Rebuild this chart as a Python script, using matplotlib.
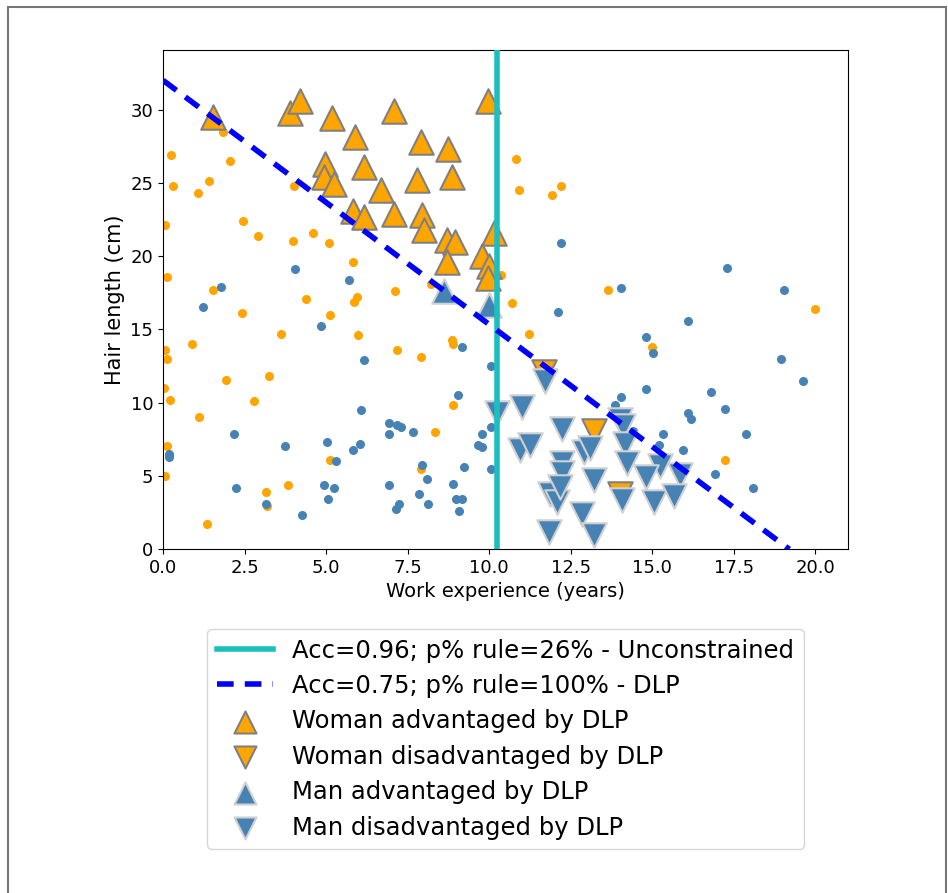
import matplotlib
matplotlib.use("Agg")
import matplotlib.pyplot as plt
from matplotlib.patches import Rectangle

# small dots: women (orange) and men (blue)
woman_x = [0.24, 0.3, 1.08, 1.42, 2.06, 1.85, 4.02, 0.06, 2.46, 2.92, 3.98, 4.61, 5.1, 5.81,
           0.11, 1.54, 7.12, 8.22, 4.38, 5.94, 5.84, 10.82, 10.9, 11.92, 12.2, 13.64, 10.36,
           2.41, 5.12, 3.61, 5.97, 0.9, 0.06, 0.11, 7.16, 7.9, 8.85, 8.9, 1.92, 3.25, 0.03,
           0.21, 2.79, 1.11, 8.9, 8.34, 0.13, 5.12, 0.06, 7.91, 3.15, 3.2, 3.82, 1.34, 10.69,
           11.21, 19.98, 15.0, 17.24]
woman_y = [26.9, 24.8, 24.3, 25.1, 26.5, 28.5, 24.8, 22.1, 22.4, 21.4, 21.05, 21.6, 20.9, 19.6,
           18.6, 17.7, 17.6, 18.1, 17.1, 17.2, 16.9, 26.6, 24.5, 24.2, 24.8, 17.7, 18.7,
           16.1, 16.0, 14.7, 14.6, 14.0, 13.6, 13.0, 13.6, 13.1, 14.3, 14.0, 11.55, 11.8, 11.0,
           10.2, 10.1, 9.05, 9.85, 8.0, 7.05, 6.1, 5.0, 5.5, 3.9, 2.95, 4.4, 1.75, 16.8,
           14.7, 16.4, 13.8, 6.1]

man_x = [4.05, 5.7, 1.77, 12.21, 17.29, 19.03, 14.04, 1.24, 4.84, 6.15, 9.16, 10.05, 9.03, 6.06,
         6.93, 7.16, 7.29, 6.93, 7.65, 2.16, 3.74, 5.04, 6.04, 5.82, 5.31, 0.18, 0.18, 9.77,
         10.05, 9.67, 9.77, 10.05, 9.24, 7.95, 8.08, 2.23, 4.92, 5.24, 5.07, 6.92, 7.84, 8.11,
         8.88, 8.99, 9.18, 9.06, 7.13, 7.24, 3.16, 4.25, 12.1, 16.08, 14.82, 15.01, 18.95,
         19.62, 14.8, 16.81, 17.22, 14.04, 13.87, 16.08, 16.18, 14.42, 15.32, 17.87, 15.21,
         15.93, 16.91, 18.09]
man_y = [19.1, 18.4, 17.9, 20.9, 19.2, 17.7, 17.8, 16.5, 15.2, 12.9, 13.8, 12.5, 10.5, 9.5,
         8.6, 8.45, 8.35, 7.85, 8.0, 7.85, 7.05, 7.35, 7.2, 6.8, 6.05, 6.5, 6.3, 7.85,
         8.35, 7.1, 7.0, 5.45, 5.6, 5.75, 4.8, 4.2, 4.35, 4.2, 3.4, 4.35, 3.75, 3.1,
         4.45, 3.4, 3.45, 2.6, 2.75, 3.1, 3.1, 2.3, 16.2, 15.6, 14.45, 13.4, 13.0,
         11.45, 10.9, 10.7, 9.6, 10.4, 9.85, 9.3, 8.9, 8.1, 7.85, 7.85, 7.1,
         6.75, 5.1, 4.2]

# triangles: points whose decision changes under DLP
w_adv_x = [1.54, 3.9, 4.2, 5.17, 7.09, 9.95, 5.88, 7.9, 8.73, 4.95, 4.92, 5.23, 6.17, 7.8, 8.85,
           6.69, 5.81, 6.15, 7.09, 7.93, 8.0, 8.7, 8.96, 10.14, 8.7, 9.78, 9.99, 9.95]
w_adv_y = [29.5, 29.8, 30.6, 29.4, 29.9, 30.6, 28.1, 27.8, 27.3, 26.3, 25.4, 24.9, 26.1, 25.2, 25.4,
           24.5, 23.1, 22.7, 22.9, 22.8, 21.8, 21.1, 21.0, 21.6, 19.6, 20.0, 19.3, 18.5]
w_dis_x = [11.67, 13.2, 14.02]
w_dis_y = [12.1, 8.1, 3.8]
m_adv_x = [8.6, 10.0]
m_adv_y = [17.6, 16.7]
m_dis_x = [11.72, 10.23, 11.0, 12.22, 14.02, 14.1, 10.95, 11.26, 12.9, 13.1, 14.17, 12.23, 12.23,
           14.22, 15.25, 15.86, 14.8, 13.2, 11.87, 12.07, 12.18, 15.04, 15.66, 14.07, 12.84,
           11.82, 13.2]
m_dis_y = [11.5, 9.3, 9.7, 8.2, 8.8, 8.4, 6.8, 7.1, 6.65, 6.9, 7.2, 5.85, 5.2,
           5.85, 5.7, 5.05, 4.95, 4.7, 3.8, 3.25, 4.25, 3.25, 3.6, 3.35, 2.4,
           1.2, 0.95]

# decision boundaries
unc_x = [10.25, 10.25]
unc_y = [0, 40]
dlp_x = [0, 19.2]
dlp_y = [32, 0]

orange = "#ffa500"
blue = "#4682b4"

fig = plt.figure(figsize=(9.48, 8.93), dpi=100)
ax = fig.add_axes([0.172, 0.385, 0.7225, 0.5595])

ax.scatter(woman_x, woman_y, s=30, c=orange, zorder=2)
ax.scatter(man_x, man_y, s=30, c=blue, zorder=2)

h3 = ax.scatter(w_adv_x, w_adv_y, s=310, marker="^", c=orange, edgecolors="grey",
                linewidths=1.5, zorder=3, label="Woman advantaged by DLP")
h4 = ax.scatter(w_dis_x, w_dis_y, s=310, marker="v", c=orange, edgecolors="grey",
                linewidths=1.5, zorder=3, label="Woman disadvantaged by DLP")
h5 = ax.scatter(m_adv_x, m_adv_y, s=310, marker="^", c=blue, edgecolors="#d0d0d0",
                linewidths=1.5, zorder=3, label="Man advantaged by DLP")
h6 = ax.scatter(m_dis_x, m_dis_y, s=310, marker="v", c=blue, edgecolors="#d0d0d0",
                linewidths=1.5, zorder=3, label="Man disadvantaged by DLP")

h1, = ax.plot(unc_x, unc_y, color="#1bbfbf", lw=4, zorder=4,
              label="Acc=0.96; p% rule=26% - Unconstrained")
h2, = ax.plot(dlp_x, dlp_y, color="blue", lw=4, ls="--", dashes=(3, 2), zorder=4,
              label="Acc=0.75; p% rule=100% - DLP")

ax.set_xlim(0, 21)
ax.set_ylim(0, 34.1)
ax.set_xticks([0, 2.5, 5, 7.5, 10, 12.5, 15, 17.5, 20])
ax.set_yticks([0, 5, 10, 15, 20, 25, 30])
ax.tick_params(labelsize=13)
ax.set_xlabel("Work experience (years)", fontsize=14)
ax.set_ylabel("Hair length (cm)", fontsize=15)

ax.legend(handles=[h1, h2, h3, h4, h5, h6], loc="upper center",
          bbox_to_anchor=(0.5, -0.135), fontsize=17.5, labelspacing=0.47,
          markerscale=0.9, handlelength=2.3)

# grey frame round the whole figure
fig.patches.append(Rectangle((8 / 948, -0.01), 938 / 948, 1 - 7 / 893 + 0.01,
                             transform=fig.transFigure, fill=False,
                             edgecolor="#777777", lw=1.5))

fig.savefig("out.png", dpi=100)
